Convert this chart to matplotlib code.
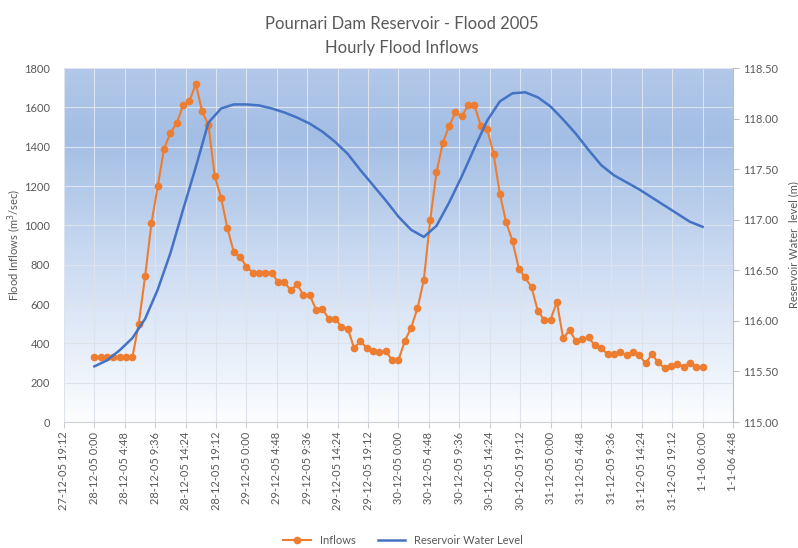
import datetime as dt
import numpy as np
import matplotlib
matplotlib.use("Agg")
import matplotlib.pyplot as plt
import matplotlib.dates as mdates
from matplotlib.colors import LinearSegmentedColormap
from matplotlib.lines import Line2D

plt.rcParams['font.family'] = ['Lato', 'DejaVu Sans']

# ---------------- data ----------------
start = dt.datetime(2005, 12, 28, 0, 0)
inflows = [330, 330, 330, 330, 330, 330, 330, 500, 740, 1010,
           1200, 1390, 1470, 1520, 1610, 1630, 1720, 1580, 1510, 1250,
           1140, 985, 865, 840, 790, 760, 760, 760, 760, 710,
           710, 670, 700, 645, 645, 570, 575, 525, 525, 485,
           475, 375, 412, 375, 363, 355, 360, 315, 315, 412,
           480, 578, 722, 1025, 1270, 1420, 1505, 1575, 1555, 1610,
           1610, 1505, 1490, 1365, 1160, 1015, 920, 780, 735, 685,
           565, 520, 520, 610, 425, 468, 412, 420, 430, 390,
           375, 345, 345, 354, 340, 354, 340, 298, 345, 303,
           273, 285, 293, 281, 302, 279, 279]
inflow_times = [start + dt.timedelta(hours=h) for h in range(len(inflows))]

level = [115.55, 115.61, 115.71, 115.83, 116.02, 116.31, 116.67, 117.10, 117.52, 117.96,
         118.10, 118.14, 118.14, 118.13, 118.10, 118.06, 118.01, 117.95, 117.87, 117.77,
         117.65, 117.49, 117.34, 117.19, 117.03, 116.90, 116.83, 116.94, 117.17, 117.43,
         117.71, 117.98, 118.17, 118.25, 118.26, 118.21, 118.12, 117.99, 117.85, 117.69,
         117.54, 117.44, 117.37, 117.30, 117.22, 117.14, 117.06, 116.98, 116.93]
level_times = [start + dt.timedelta(hours=2 * i) for i in range(len(level))]

tick_start = dt.datetime(2005, 12, 27, 19, 12)
tick_times = [tick_start + dt.timedelta(minutes=288 * i) for i in range(23)]
tick_labels = [f"{t.day}-{t.month}-{t.strftime('%y')} {t.hour}:{t.minute:02d}" for t in tick_times]

title = "Pournari Dam Reservoir - Flood 2005\nHourly Flood Inflows"

# ---------------- figure ----------------
fig = plt.figure(figsize=(7.98, 5.48), dpi=100)
ax = fig.add_axes([0.0802, 0.2299, 0.8383, 0.646])

x0, x1 = mdates.date2num(tick_times[0]), mdates.date2num(tick_times[-1])
ax.set_xlim(x0, x1)
ax.set_ylim(0, 1800)

# gradient background
cmap = LinearSegmentedColormap.from_list(
    "bg", [(0.0, (0.99, 0.995, 1.0)), (0.45, (0.80, 0.86, 0.95)),
           (0.80, (0.64, 0.745, 0.895)), (1.0, (0.70, 0.785, 0.915))])
grad = np.linspace(0, 1, 256).reshape(-1, 1)
ax.imshow(grad, cmap=cmap, origin='lower', aspect='auto',
          extent=[0, 1, 0, 1], transform=ax.transAxes, zorder=0)

ax.set_yticks(np.arange(0, 1801, 200))
ax.set_xticks([mdates.date2num(t) for t in tick_times])
ax.set_xticklabels(tick_labels, rotation=90, fontsize=8, color='#595959')
ax.tick_params(axis='y', length=0, labelsize=8, labelcolor='#595959', pad=10)
ax.tick_params(axis='x', length=4, color='#D0D0D0', pad=3)
ax.grid(True, color='#DDE3EC', linewidth=0.8, zorder=1)
ax.set_axisbelow(False)
for s in ['top', 'right', 'left']:
    ax.spines[s].set_visible(False)
ax.spines['bottom'].set_color('#D0D0D0')

ax.plot(inflow_times, inflows, color='#ED7D31', linewidth=1.5, marker='o',
        markersize=4.5, zorder=3)
ax.set_ylabel("Flood Inflows (m$^3$/sec)", fontsize=8, color='#595959')
ax.yaxis.set_label_coords(-0.062, 0.5)

ax2 = ax.twinx()
ax2.set_ylim(115, 118.5)
ax2.set_yticks(np.arange(115, 118.51, 0.5))
ax2.set_yticklabels([f"{v:.2f}" for v in np.arange(115, 118.51, 0.5)])
ax2.tick_params(axis='y', length=4, color='#BFBFBF', labelsize=8, labelcolor='#595959', pad=3)
ax2.plot(level_times, level, color='#4472C4', linewidth=1.8, zorder=4)
for s in ['top', 'left', 'bottom']:
    ax2.spines[s].set_visible(False)
ax2.spines['right'].set_color('#BFBFBF')
ax2.set_ylabel("Reservoir Water  level (m)", fontsize=8, color='#595959')
ax2.yaxis.set_label_coords(1.083, 0.5)
ax2.set_xlim(x0, x1)

fig.text(0.503, 0.935, title, ha='center', va='center', fontsize=12,
         color='#595959', linespacing=1.6)

handles = [Line2D([], [], color='#ED7D31', linewidth=1.5, marker='o', markersize=4.5),
           Line2D([], [], color='#4472C4', linewidth=1.8)]
fig.legend(handles, ["Inflows", "Reservoir Water Level"], loc='center',
           bbox_to_anchor=(0.505, 0.013), ncol=2, frameon=False, fontsize=8,
           labelcolor='#595959', handlelength=2.5, columnspacing=2.0)

fig.savefig("out.png", dpi=100)
